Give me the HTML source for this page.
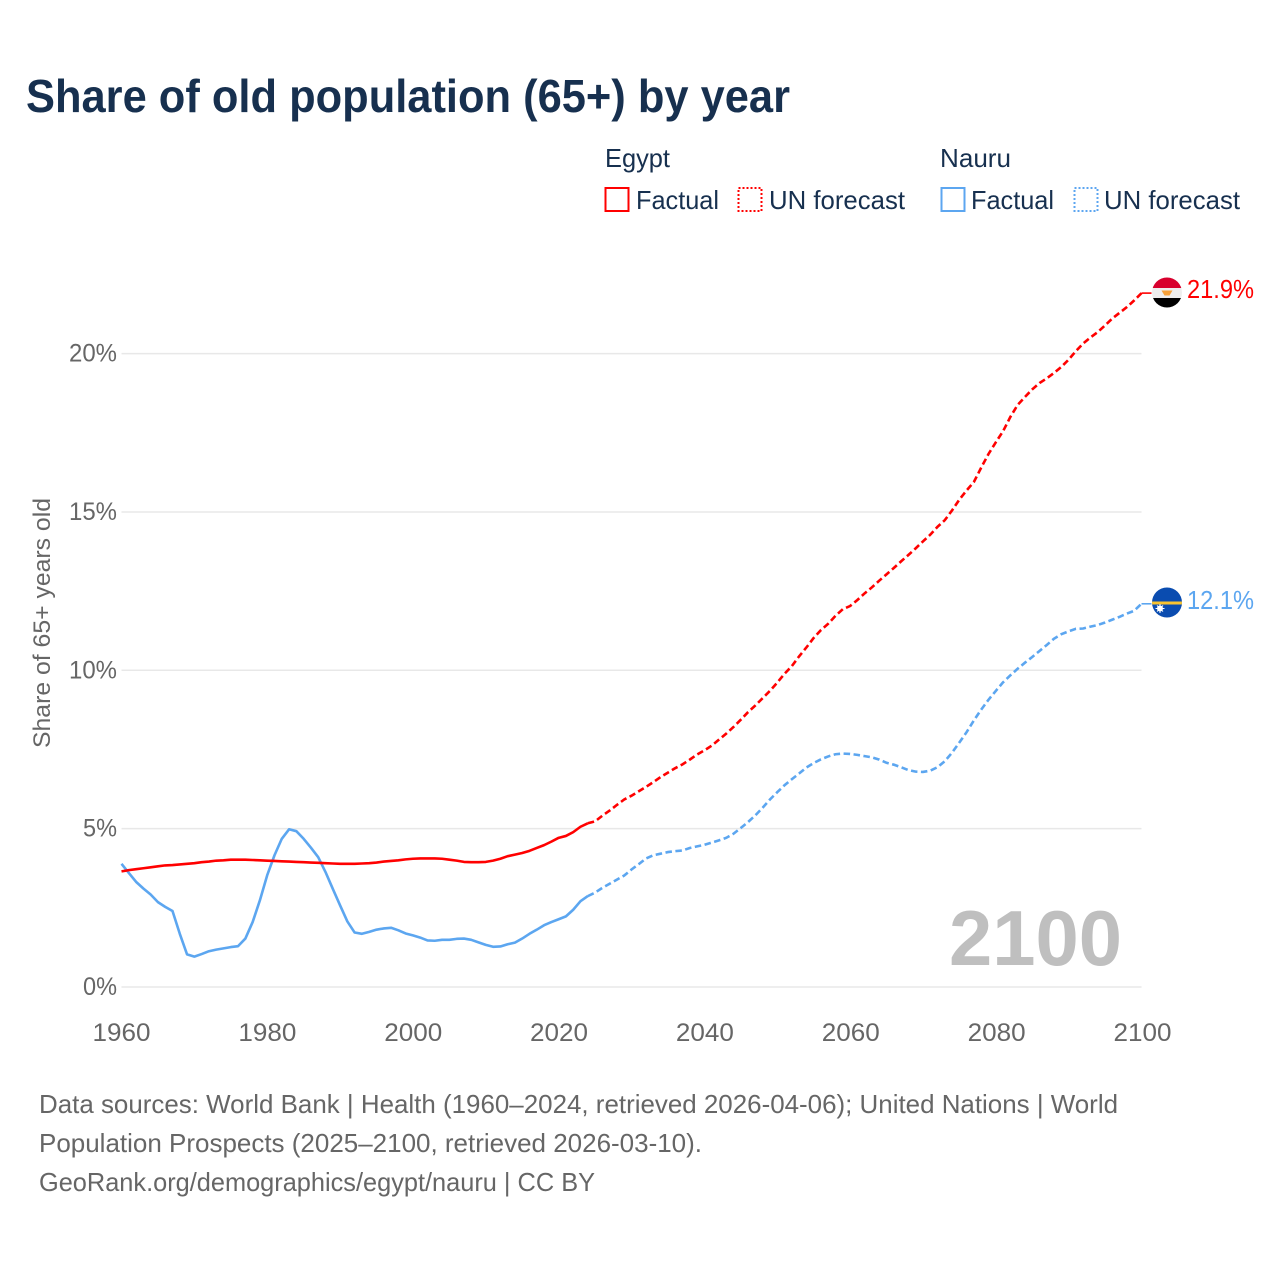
<!DOCTYPE html>
<html lang="en">
<head>
<meta charset="utf-8">
<title>Share of old population (65+) by year</title>
<style>
html,body{margin:0;padding:0;background:#fff;}
svg{display:block;font-family:"Liberation Sans",sans-serif;}
</style>
</head>
<body>
<svg id="chart" xmlns="http://www.w3.org/2000/svg" width="1280" height="1280" viewBox="0 0 1280 1280">
  <rect width="1280" height="1280" fill="#ffffff"/>
  <text x="26" y="112" font-size="46" font-weight="700" fill="#17304f" textLength="764" lengthAdjust="spacingAndGlyphs">Share of old population (65+) by year</text>

  <g font-size="26" fill="#17304f">
    <text x="605" y="167" textLength="65" lengthAdjust="spacingAndGlyphs">Egypt</text>
    <rect x="605.5" y="188" width="23" height="23" fill="none" stroke="#ff0000" stroke-width="2"/>
    <text x="636" y="209" textLength="83" lengthAdjust="spacingAndGlyphs">Factual</text>
    <rect x="738.5" y="188" width="23" height="23" fill="none" stroke="#ff0000" stroke-width="2" stroke-dasharray="2 2"/>
    <text x="769" y="209" textLength="136" lengthAdjust="spacingAndGlyphs">UN forecast</text>
    <text x="940" y="167" textLength="71" lengthAdjust="spacingAndGlyphs">Nauru</text>
    <rect x="941.5" y="188" width="23" height="23" fill="none" stroke="#5ca6f0" stroke-width="2"/>
    <text x="971" y="209" textLength="83" lengthAdjust="spacingAndGlyphs">Factual</text>
    <rect x="1074.5" y="188" width="23" height="23" fill="none" stroke="#5ca6f0" stroke-width="2" stroke-dasharray="2 2"/>
    <text x="1104" y="209" textLength="136" lengthAdjust="spacingAndGlyphs">UN forecast</text>
  </g>

  <g id="grid"></g>
  <g id="yticks" font-size="25" fill="#666666"></g>
  <g id="xticks" font-size="25" fill="#666666"></g>
  <text transform="translate(50,748) rotate(-90)" font-size="24.5" fill="#666666" textLength="250" lengthAdjust="spacingAndGlyphs">Share of 65+ years old</text>
  <text x="949" y="965" font-size="78" font-weight="700" fill="#bfbfbf" textLength="173" lengthAdjust="spacingAndGlyphs">2100</text>
  <g id="series"></g>

  <g>
    <clipPath id="clip-eg"><circle cx="1167" cy="292.5" r="15"/></clipPath>
    <g clip-path="url(#clip-eg)">
      <rect x="1152" y="277" width="30" height="11" fill="#d8002e"/>
      <rect x="1152" y="288" width="30" height="10" fill="#eeeeee"/>
      <rect x="1152" y="298" width="30" height="10" fill="#000000"/>
      <path d="M1161.5 290.5 L1172.5 290.5 L1169.5 295.5 L1164.5 295.5 Z" fill="#f6a13a"/>
    </g>
  </g>
  <g>
    <clipPath id="clip-nr"><circle cx="1167" cy="602.5" r="15"/></clipPath>
    <g clip-path="url(#clip-nr)">
      <rect x="1152" y="587" width="30" height="31" fill="#0a4cb0"/>
      <rect x="1152" y="601.5" width="30" height="3" fill="#f8c330"/>
      <circle cx="1160" cy="608.5" r="3" fill="#ffffff"/>
      <path d="M1160 604 V613 M1155.5 608.5 H1164.5 M1157 605.5 L1163 611.5 M1163 605.5 L1157 611.5" stroke="#ffffff" stroke-width="1"/>
    </g>
  </g>
  <text x="1187" y="298" font-size="25.5" fill="#ff0000" textLength="67" lengthAdjust="spacingAndGlyphs">21.9%</text>
  <text x="1187" y="609" font-size="25.5" fill="#5ca6f0" textLength="67" lengthAdjust="spacingAndGlyphs">12.1%</text>

  <g font-size="26" fill="#666666">
    <text x="39" y="1113" textLength="1079" lengthAdjust="spacingAndGlyphs">Data sources: World Bank | Health (1960–2024, retrieved 2026-04-06); United Nations | World</text>
    <text x="39" y="1152" textLength="663" lengthAdjust="spacingAndGlyphs">Population Prospects (2025–2100, retrieved 2026-03-10).</text>
    <text x="39" y="1191" textLength="556" lengthAdjust="spacingAndGlyphs">GeoRank.org/demographics/egypt/nauru | CC BY</text>
  </g>
</svg>
<script>
const firstYear = 1960;
const lastYear = 2100;
const xTickYears = [1960, 1980, 2000, 2020, 2040, 2060, 2080, 2100];
const yTickValues = [0, 5, 10, 15, 20];
const yTickLabels = ['0%', '5%', '10%', '15%', '20%'];

// Annual values 1960–2024
const egyptFactual = [
3.65,3.69,3.72,3.75,3.78,3.81,3.84,3.85,3.87,3.89,
3.91,3.94,3.96,3.99,4.00,4.02,4.02,4.02,4.01,4.00,
3.99,3.98,3.97,3.96,3.95,3.94,3.93,3.92,3.91,3.90,
3.89,3.89,3.89,3.90,3.91,3.93,3.96,3.98,4.00,4.03,
4.05,4.06,4.06,4.06,4.05,4.02,3.99,3.95,3.94,3.94,
3.95,3.99,4.05,4.13,4.18,4.23,4.30,4.39,4.48,4.59,
4.71,4.77,4.89,5.06,5.17];
// Annual values 2025–2100
const egyptForecast = [
5.23,5.41,5.57,5.75,5.92,6.04,6.18,6.32,6.47,6.63,
6.77,6.91,7.03,7.18,7.34,7.47,7.62,7.81,8.00,8.21,
8.44,8.68,8.89,9.12,9.35,9.61,9.89,10.13,10.44,10.72,
11.02,11.27,11.47,11.72,11.93,12.03,12.22,12.43,12.62,12.83,
13.03,13.23,13.44,13.64,13.85,14.07,14.28,14.53,14.74,15.05,
15.39,15.68,15.95,16.40,16.83,17.20,17.55,18.00,18.38,18.63,
18.87,19.07,19.22,19.39,19.58,19.81,20.08,20.32,20.51,20.68,
20.89,21.11,21.29,21.47,21.68,21.91];
// Annual values 1960–2024
const nauruFactual = [
3.89,3.60,3.32,3.11,2.92,2.68,2.53,2.40,1.68,1.03,
0.96,1.04,1.13,1.18,1.22,1.26,1.29,1.53,2.05,2.74,
3.53,4.16,4.68,4.98,4.92,4.68,4.40,4.10,3.63,3.10,
2.58,2.07,1.72,1.68,1.74,1.81,1.85,1.87,1.79,1.69,
1.63,1.56,1.47,1.46,1.49,1.49,1.52,1.53,1.49,1.41,
1.33,1.27,1.28,1.35,1.40,1.53,1.68,1.81,1.95,2.05,
2.14,2.23,2.44,2.71,2.87];
// Annual values 2025–2100
const nauruForecast = [
2.98,3.13,3.26,3.39,3.52,3.71,3.88,4.06,4.16,4.21,
4.26,4.29,4.31,4.39,4.44,4.49,4.56,4.63,4.71,4.84,
5.02,5.21,5.42,5.66,5.92,6.15,6.37,6.56,6.74,6.93,
7.07,7.19,7.28,7.35,7.37,7.36,7.33,7.29,7.25,7.18,
7.08,7.02,6.94,6.85,6.80,6.79,6.83,6.94,7.13,7.40,
7.72,8.05,8.42,8.76,9.07,9.35,9.62,9.84,10.05,10.24,
10.42,10.61,10.80,11.00,11.14,11.23,11.31,11.32,11.38,11.43,
11.51,11.60,11.69,11.79,11.88,12.10];

const SVG_NS = 'http://www.w3.org/2000/svg';
const xScale = (year) => 121.5 + (year - firstYear) * (1141.5 - 121.5) / (lastYear - firstYear);
const xTickScale = (year) => 121.5 + (year - firstYear) * (1142.5 - 121.5) / (lastYear - firstYear);
const yScale = (value) => 987 - value * 31.67;

const grid = document.getElementById('grid');
const yticks = document.getElementById('yticks');
const xticks = document.getElementById('xticks');
const seriesLayer = document.getElementById('series');

yTickValues.forEach((v, i) => {
  const line = document.createElementNS(SVG_NS, 'line');
  
  
  line.setAttribute('x1', xScale(firstYear));
  line.setAttribute('x2', xScale(lastYear));
  line.setAttribute('y1', yScale(v));
  line.setAttribute('y2', yScale(v));
  line.setAttribute('stroke', '#e8e8e8');
  line.setAttribute('stroke-width', '1.5');
  grid.appendChild(line);

  const label = document.createElementNS(SVG_NS, 'text');
  
  
  label.setAttribute('x', 117);
  label.setAttribute('y', yScale(v) + 8);
  label.setAttribute('text-anchor', 'end');
  label.setAttribute('textLength', yTickLabels[i].length === 3 ? 48 : 34);
  label.setAttribute('lengthAdjust', 'spacingAndGlyphs');
  label.textContent = yTickLabels[i];
  yticks.appendChild(label);
});

xTickYears.forEach((year) => {
  const label = document.createElementNS(SVG_NS, 'text');
  
  
  label.setAttribute('x', xTickScale(year));
  label.setAttribute('y', 1041);
  label.setAttribute('text-anchor', 'middle');
  label.setAttribute('textLength', 58);
  label.setAttribute('lengthAdjust', 'spacingAndGlyphs');
  label.textContent = String(year);
  xticks.appendChild(label);
});

function pathFrom(values, startYear) {
  return values.map((v, i) => (i ? 'L' : 'M') + xScale(startYear + i).toFixed(2) + ' ' + yScale(v).toFixed(2)).join(' ');
}

function drawSeries(name, color, factual, forecast) {
  const group = document.createElementNS(SVG_NS, 'g');
  
  

  const solid = document.createElementNS(SVG_NS, 'path');
  
  
  solid.setAttribute('d', pathFrom(factual, firstYear));
  solid.setAttribute('fill', 'none');
  solid.setAttribute('stroke', color);
  solid.setAttribute('stroke-width', '2.6');
  solid.setAttribute('stroke-linejoin', 'round');
  group.appendChild(solid);

  const joinValues = [factual[factual.length - 1]].concat(forecast);
  const dashed = document.createElementNS(SVG_NS, 'path');
  
  
  dashed.setAttribute('d', pathFrom(joinValues, firstYear + factual.length - 1));
  dashed.setAttribute('fill', 'none');
  dashed.setAttribute('stroke', color);
  dashed.setAttribute('stroke-width', '2.6');
  dashed.setAttribute('stroke-dasharray', '6.5 3.5');
  group.appendChild(dashed);

  const lastValue = forecast[forecast.length - 1];
  const stub = document.createElementNS(SVG_NS, 'line');
  
  
  stub.setAttribute('x1', xScale(lastYear));
  stub.setAttribute('x2', xScale(lastYear) + 10);
  stub.setAttribute('y1', yScale(lastValue));
  stub.setAttribute('y2', yScale(lastValue));
  stub.setAttribute('stroke', color);
  stub.setAttribute('stroke-width', '1.6');
  group.appendChild(stub);

  seriesLayer.appendChild(group);
}

drawSeries('nauru', '#5ca6f0', nauruFactual, nauruForecast);
drawSeries('egypt', '#ff0000', egyptFactual, egyptForecast);
</script>
</body>
</html>
